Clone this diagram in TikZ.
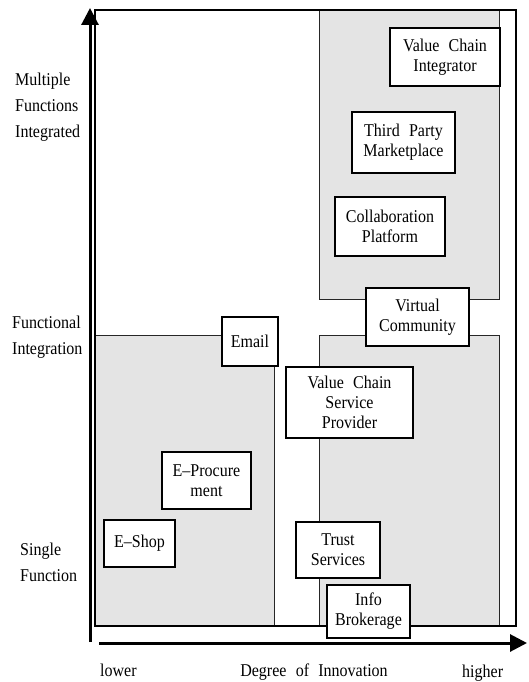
\documentclass[tikz,border=0pt]{standalone}
\usepackage{fontspec}
\setmainfont[WordSpace=2.3,FakeStretch=0.89]{Liberation Serif}
\usetikzlibrary{arrows.meta}
\definecolor{zone}{HTML}{E4E4E4}
\begin{document}
\begin{tikzpicture}[x=1pt,y=-1pt,
  every node/.style={font=\fontsize{18}{20}\selectfont, inner sep=0pt},
  zonebox/.style={fill=zone, draw=black!85, line width=0.9pt},
  bizbox/.style={draw=black, line width=1.2pt, fill=white, align=center},
  axislabel/.style={anchor=base west},
  axis/.style={line width=3pt, -{Triangle[length=17pt,width=17pt]}}]
\useasboundingbox (0,0) rectangle (529,682);

% shaded zones
\draw[zonebox] (319,10) rectangle (499,299);
\draw[zonebox] (95,335) rectangle (274,626);
\draw[zonebox] (319,335) rectangle (499,626);

% frame
\draw[line width=1.3pt] (95,626) -- (95,10) -- (516,10) -- (516,626) -- cycle;

% axes
\coordinate (yfrom) at (90,642);
\coordinate (yto) at (90,8);
\coordinate (xfrom) at (99,643);
\coordinate (xto) at (527,643);
\draw[axis] (yfrom) -- (yto);
\draw[axis] (xfrom) -- (xto);

% business models
\node[bizbox, minimum width=110pt, minimum height=58pt] (vci) at (445,57) {Value Chain\\Integrator};
\node[bizbox, minimum width=103pt, minimum height=61pt] (tpm) at (403.5,142.5) {Third Party\\Marketplace};
\node[bizbox, minimum width=110pt, minimum height=59pt] (cp) at (390,226.5) {Collaboration\\Platform};
\node[bizbox, minimum width=103pt, minimum height=58pt] (vc) at (417.5,317) {Virtual\\Community};
\node[bizbox, minimum width=56pt, minimum height=49pt] (email) at (250,341.5) {Email};
\node[bizbox, minimum width=127pt, minimum height=71pt] (vcsp) at (349.5,402.5) {Value Chain\\Service\\Provider};
\node[bizbox, minimum width=89pt, minimum height=57pt] (eproc) at (206.5,480.5) {E–Procure\\ment};
\node[bizbox, minimum width=71pt, minimum height=47pt] (eshop) at (139.5,543.5) {E–Shop};
\node[bizbox, minimum width=84pt, minimum height=56pt] (trust) at (338,550) {Trust\\Services};
\node[bizbox, minimum width=83pt, minimum height=53pt] (info) at (368.5,611.5) {Info\\Brokerage};

% vertical axis labels
\node[axislabel] (mfa) at (15,86) {Multiple};
\node[axislabel] (mfb) at (15,112) {Functions};
\node[axislabel] (mfc) at (15,138) {Integrated};
\node[axislabel] (fia) at (12,328) {Functional};
\node[axislabel] (fib) at (12,354) {Integration};
\node[axislabel] (sfa) at (20,555) {Single};
\node[axislabel] (sfb) at (20,581) {Function};

% horizontal axis labels
\node[axislabel] (lower) at (100,676) {lower};
\node[anchor=base] (degree) at (314,676) {Degree of Innovation};
\node[axislabel] (higher) at (462,677) {higher};
\end{tikzpicture}
\end{document}
